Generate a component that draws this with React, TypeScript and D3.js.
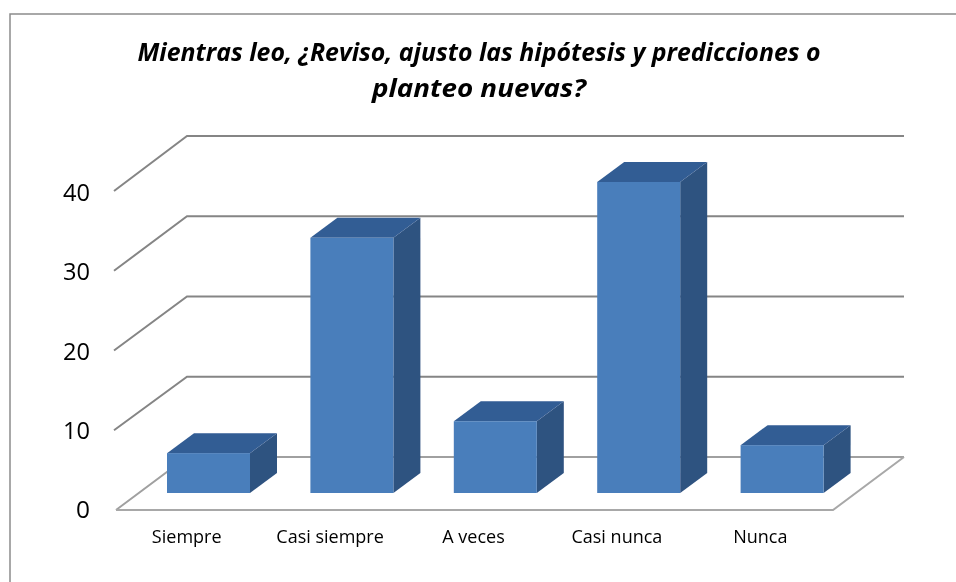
import React from "react";
import * as d3 from "d3";

const categories = ["Siempre", "Casi siempre", "A veces", "Casi nunca", "Nunca"];
const values = [5, 32, 9, 39, 6];
const yTicks = [0, 10, 20, 30, 40];
const titleLines = [
  "Mientras leo, ¿Reviso, ajusto las hipótesis y predicciones o",
  "planteo nuevas?",
];

const FONT = "'Open Sans', 'Noto Sans', sans-serif";
const W = 956;
const H = 582;

export default function App() {
  const x = d3.scaleBand<string>().domain(categories).range([116, 833]);
  const yFront = d3.scaleLinear().domain([0, 40]).range([510, 191]);
  const yBack = d3.scaleLinear().domain([0, 40]).range([457, 136]);
  const yLabel = d3.scaleLinear().domain([0, 40]).range([518, 201]);
  const yBar = d3.scaleLinear().domain([0, 40]).range([493, 174]);
  const backX = 187;
  const backRight = 904;
  const frontRight = 833;
  const barOffset = 51;
  const barW = 83;
  const barDX = 27;
  const barDY = -20;
  const line = d3.line();

  return (
    <svg
      width={W}
      height={H}
      style={{ position: "absolute", left: 0, top: 0, background: "#fff" }}
    >
      <defs>
        <filter id="soft" x="-2%" y="-2%" width="104%" height="104%">
          <feGaussianBlur stdDeviation="0.5" />
        </filter>
        <filter id="softText" x="-2%" y="-5%" width="104%" height="110%">
          <feGaussianBlur stdDeviation="0.3" />
        </filter>
      </defs>
      <path d={`M10 582V14H956`} fill="none" stroke="#8c8c8c" strokeWidth={1.5} />
      <g filter="url(#softText)">
        <g fontFamily={FONT} fontWeight={700} fontStyle="italic" fontSize={25} textAnchor="middle" fill="#000">
          {titleLines.map((t, i) => (
            <text key={i} x={479} y={61 + i * 36} textLength={i === 0 ? 683 : 214} lengthAdjust="spacingAndGlyphs">
              {t}
            </text>
          ))}
        </g>
        <g fontFamily={FONT} fontSize={24} textAnchor="end" fill="#000">
          {yTicks.map((t) => (
            <text key={t} x={90} y={yLabel(t)} textLength={t === 0 ? 14 : 27} lengthAdjust="spacingAndGlyphs">
              {t}
            </text>
          ))}
        </g>
        <g fontFamily={FONT} fontSize={18} textAnchor="middle" fill="#000">
          {categories.map((c) => (
            <text key={c} x={(x(c) as number) + x.bandwidth() / 2 - 1} y={543}>
              {c}
            </text>
          ))}
        </g>
      </g>
      <g filter="url(#soft)">
        {yTicks.map((t) => (
          <path
            key={t}
            d={
              line([
                [t === 0 ? 116 : 114, yFront(t)],
                [backX, yBack(t)],
                [backRight, yBack(t)],
              ]) || ""
            }
            fill="none"
            stroke={t === 0 ? "#a0a0a0" : "#858585"}
            strokeWidth={2}
          />
        ))}
        <path
          d={
            line([
              [116, yFront(0)],
              [frontRight, yFront(0)],
              [backRight, yBack(0)],
            ]) || ""
          }
          fill="none"
          stroke="#a8a8a8"
          strokeWidth={2}
        />
        {values.map((v, i) => {
          const x0 = (x(categories[i]) as number) + barOffset;
          const x1 = x0 + barW;
          const yb = yBar(0);
          const yt = yBar(v);
          return (
            <g key={categories[i]}>
              <path
                d={`M${x1} ${yb}L${x1 + barDX} ${yb + barDY}V${yt + barDY}L${x1} ${yt}Z`}
                fill="#2f5280"
              />
              <path
                d={`M${x0} ${yt}L${x0 + barDX} ${yt + barDY}H${x1 + barDX}L${x1} ${yt}Z`}
                fill="#335d94"
              />
              <rect x={x0} y={yt} width={barW} height={yb - yt} fill="#4a7ebb" />
            </g>
          );
        })}
      </g>
    </svg>
  );
}
